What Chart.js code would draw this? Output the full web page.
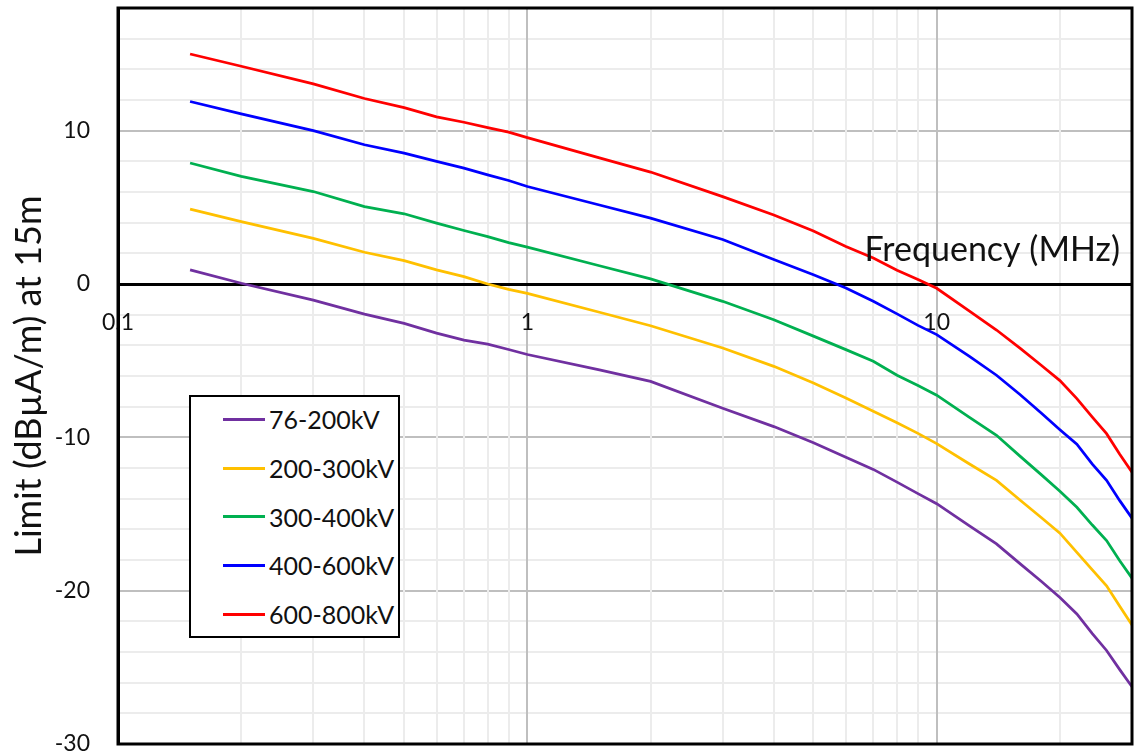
<!DOCTYPE html>
<html>
<head>
<meta charset="utf-8">
<script src="https://cdn.jsdelivr.net/npm/chart.js@4.4.1/dist/chart.umd.min.js"></script>
<style>
  body { margin: 0; background: #fff; }
  #wrap { position: relative; width: 1138px; height: 756px; }
  #legend {
    position: absolute; left: 189px; top: 395px; width: 207px; height: 239px;
    border: 2px solid #000; background: #fff;
    font-family: Lato, sans-serif; font-size: 25px; color: #111;
  }
  #legend .row { display: flex; align-items: center; height: 48.7px; margin-left: 32px; }
  #legend .row:first-child { margin-top: -2px; }
  #legend .swatch { width: 42px; height: 3px; margin-right: 4px; }
</style>
</head>
<body>
<div id="wrap">
  <canvas id="chart" width="1138" height="756"></canvas>
  <div id="legend"></div>
</div>
<script>
// frequency points (MHz)
const freqs = [0.15, 0.2, 0.3, 0.4, 0.5, 0.6, 0.7, 0.8, 0.9, 1, 1.5, 2, 3, 4, 5, 6, 7, 8, 9, 10,
               12, 14, 16, 18, 20, 22, 24, 26, 28, 30];

// limit values, dBuA/m at 15 m
const kv76to200 = [0.92, 0.05, -1.05, -1.96, -2.57, -3.2, -3.66, -3.92, -4.27, -4.6, -5.6, -6.35, -8.1, -9.3, -10.35, -11.3, -12.09, -12.92, -13.67, -14.33,
                   -15.76, -16.95, -18.25, -19.39, -20.45, -21.52, -22.8, -23.9, -25.15, -26.27];
const kv200to300 = [4.88, 4.07, 2.98, 2.07, 1.52, 0.92, 0.48, 0.0, -0.35, -0.61, -1.84, -2.72, -4.17, -5.37, -6.46, -7.43, -8.3, -9.05, -9.74, -10.41,
                    -11.72, -12.81, -14.1, -15.23, -16.25, -17.5, -18.65, -19.68, -21.02, -22.24];
const kv300to400 = [7.89, 7.02, 6.03, 5.05, 4.58, 3.97, 3.49, 3.09, 2.7, 2.4, 1.19, 0.33, -1.13, -2.33, -3.4, -4.28, -5.04, -5.95, -6.62, -7.25,
                    -8.68, -9.87, -11.24, -12.43, -13.51, -14.56, -15.72, -16.73, -18.05, -19.19];
const kv400to600 = [11.9, 11.1, 10.0, 9.08, 8.54, 8.0, 7.56, 7.12, 6.75, 6.36, 5.15, 4.3, 2.9, 1.6, 0.6, -0.26, -1.13, -1.95, -2.7, -3.3,
                    -4.7, -5.95, -7.22, -8.41, -9.5, -10.45, -11.75, -12.8, -14.13, -15.27];
const kv600to800 = [15.0, 14.2, 13.05, 12.1, 11.5, 10.9, 10.55, 10.2, 9.9, 9.55, 8.23, 7.3, 5.7, 4.5, 3.45, 2.45, 1.7, 0.9, 0.3, -0.28,
                    -1.75, -3.0, -4.2, -5.3, -6.3, -7.47, -8.68, -9.76, -11.1, -12.27];

const seriesNames = ['76-200kV', '200-300kV', '300-400kV', '400-600kV', '600-800kV'];
const seriesColors = ['#7030A0', '#FFC000', '#00B050', '#0000FF', '#FF0000'];
const seriesValues = [kv76to200, kv200to300, kv300to400, kv400to600, kv600to800];

// axis ticks
const xTicks = [0.1, 0.2, 0.3, 0.4, 0.5, 0.6, 0.7, 0.8, 0.9, 1, 2, 3, 4, 5, 6, 7, 8, 9, 10, 20, 30];
const xLabels = [0.1, 1, 10];
const yMin = -30, yMax = 18, yStep = 2;

const FONT = 'Lato, sans-serif';

const frame = {
  id: 'frame',
  afterDraw(chart) {
    const { ctx, chartArea: a, scales } = chart;
    ctx.save();
    ctx.strokeStyle = '#000';
    ctx.lineWidth = 3;
    ctx.strokeRect(a.left, a.top, a.right - a.left, a.bottom - a.top);
    ctx.fillStyle = '#111';
    ctx.font = '34px ' + FONT;
    ctx.textAlign = 'right';
    ctx.textBaseline = 'alphabetic';
    ctx.fillText('Frequency (MHz)', a.right - 12, scales.y.getPixelForValue(0) - 23);
    ctx.restore();
  }
};

new Chart(document.getElementById('chart'), {
  type: 'line',
  data: {
    datasets: seriesValues.map((vals, i) => ({
      label: seriesNames[i],
      data: vals.map((v, j) => ({ x: freqs[j], y: v })),
      borderColor: seriesColors[i],
      borderWidth: 2.75,
      pointRadius: 0,
      tension: 0,
      fill: false
    }))
  },
  options: {
    responsive: false,
    animation: false,
    layout: { padding: { top: 8, right: 6, bottom: 12, left: 0 } },
    plugins: { legend: { display: false }, tooltip: { enabled: false } },
    scales: {
      y: {
        min: yMin, max: yMax,
        afterFit(scale) { scale.width = 118; },
        ticks: {
          stepSize: yStep,
          padding: 0,
          color: '#111',
          font: { family: FONT, size: 23, lineHeight: 0.5 },
          callback: v => (v % 10 === 0 ? v : '')
        },
        grid: {
          drawTicks: true,
          tickLength: 28,
          tickColor: 'rgba(0,0,0,0)',
          color: c => (c.tick.value % 10 === 0 ? '#bfbfbf' : '#ececec'),
          lineWidth: 2
        },
        border: { color: '#000', width: 3 },
        title: {
          display: true,
          text: 'Limit (dBµA/m) at 15m',
          color: '#111',
          font: { family: FONT, size: 36 },
          padding: { top: 8, bottom: 0 }
        }
      },
      x: {
        type: 'logarithmic',
        min: 0.1, max: 30,
        position: { y: 0 },
        afterBuildTicks(scale) { scale.ticks = xTicks.map(v => ({ value: v })); },
        ticks: {
          autoSkip: false,
          maxRotation: 0,
          padding: 0,
          color: '#111',
          font: { family: FONT, size: 23 },
          callback: v => (xLabels.includes(v) ? String(v) : '')
        },
        grid: {
          drawTicks: true,
          tickLength: 25,
          tickColor: 'rgba(0,0,0,0)',
          color: c => (c.tick && (c.tick.value === 1 || c.tick.value === 10) ? '#bfbfbf' : '#ececec'),
          lineWidth: 2
        },
        border: { color: '#000', width: 3 }
      }
    }
  },
  plugins: [frame]
});

// legend box inside the plot
const legend = document.getElementById('legend');
seriesNames.forEach((name, i) => {
  const row = document.createElement('div');
  row.className = 'row';
  const sw = document.createElement('span');
  sw.className = 'swatch';
  sw.style.background = seriesColors[i];
  const t = document.createElement('span');
  t.textContent = name;
  row.appendChild(sw);
  row.appendChild(t);
  legend.appendChild(row);
});
</script>
</body>
</html>
